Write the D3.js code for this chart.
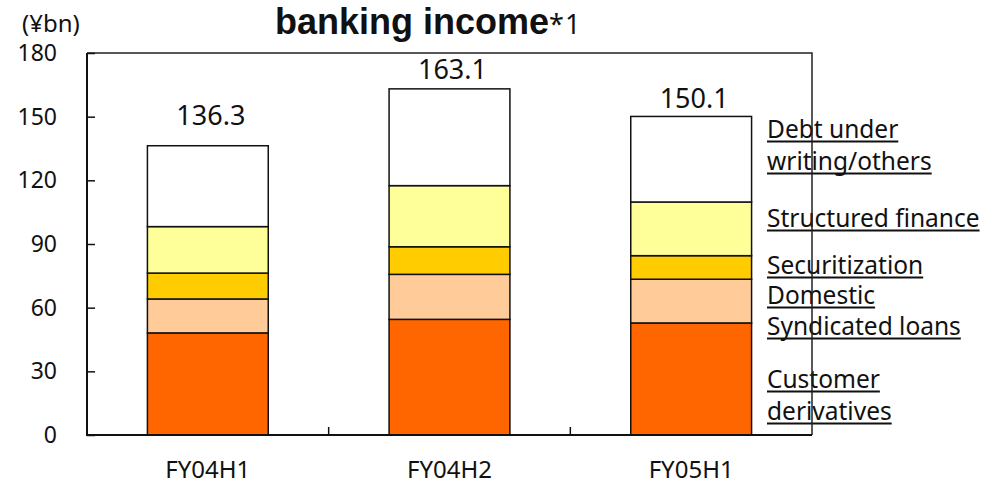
<!DOCTYPE html>
<html>
<head>
<meta charset="utf-8">
<script src="https://cdn.jsdelivr.net/npm/d3@7"></script>
<style>
  html, body { margin: 0; padding: 0; background: #fff; }
  svg { display: block; }
  text { font-family: "Noto Sans", "DejaVu Sans", sans-serif; fill: #111; }
</style>
</head>
<body>
<svg id="chart" width="1003" height="486"></svg>
<script>
// Half-year periods
const categories = ["FY04H1", "FY04H2", "FY05H1"];

// Income by business line (¥bn), bottom to top of each stack
const customerDerivatives = [48.1, 54.5, 52.8];
const domesticSyndicatedLoans = [16.0, 21.2, 20.6];
const securitization = [12.2, 13.0, 11.1];
const structuredFinance = [21.9, 28.8, 25.3];
const debtUnderwritingOthers = [38.1, 45.6, 40.3];

// Totals printed above each bar
const totals = [136.3, 163.1, 150.1];

// Y axis ticks
const yTicks = [0, 30, 60, 90, 120, 150, 180];

const seriesNames = ["Customer derivatives", "Domestic Syndicated loans", "Securitization",
                     "Structured finance", "Debt underwriting/others"];
const seriesValues = [customerDerivatives, domesticSyndicatedLoans, securitization,
                      structuredFinance, debtUnderwritingOthers];

// Legend lines beside the last bar (label text split as drawn)
const legendLines = [
  ["Debt under", "writing/others"],
  ["Structured finance"],
  ["Securitization"],
  ["Domestic", "Syndicated loans"],
  ["Customer", "derivatives"]
];

// ---- layout & style ----
const colors = ["#FF6600", "#FFCC99", "#FFCC00", "#FFFF99", "#FFFFFF"];
const plot = { left: 87, right: 812, top: 53, bottom: 435 };
const labelLift = [21, 10, 8];            // gap between bar top and total label
const legendBaselines = [[138, 170], [227], [274], [304, 335], [388, 420]];

const svg = d3.select("#chart");

const rows = categories.map((c, i) => {
  const r = { category: c };
  seriesNames.forEach((s, k) => r[s] = seriesValues[k][i]);
  return r;
});
const stacked = d3.stack().keys(seriesNames)(rows);

const x = d3.scaleBand().domain(categories)
  .range([plot.left, plot.right]).paddingInner(0.5).paddingOuter(0.25);
const y = d3.scaleLinear().domain([0, 180]).range([plot.bottom, plot.top]);

// Bars
svg.append("g").selectAll("g")
  .data(stacked).join("g")
  .attr("fill", (d, i) => colors[i])
  .selectAll("rect")
  .data(d => d).join("rect")
  .attr("x", d => x(d.data.category))
  .attr("width", x.bandwidth())
  .attr("y", d => y(d[1]))
  .attr("height", d => y(d[0]) - y(d[1]))
  .attr("stroke", "#111")
  .attr("stroke-width", 1.5);

// Totals
svg.append("g").selectAll("text")
  .data(categories).join("text")
  .attr("x", (c) => x(c) + x.bandwidth() / 2 + 3)
  .attr("y", (c, i) => y(totals[i]) - labelLift[i])
  .attr("text-anchor", "middle")
  .attr("font-size", 27)
  .text((c, i) => totals[i].toFixed(1));

// Legend text with underline
const legendG = svg.append("g");
legendLines.forEach((lines, k) => {
  lines.forEach((line, j) => {
    const t = legendG.append("text")
      .attr("x", 767)
      .attr("y", legendBaselines[k][j])
      .attr("font-size", 24.5)
      .text(line);
    const w = t.node().getComputedTextLength();
    legendG.append("line")
      .attr("x1", 767).attr("x2", 767 + w)
      .attr("y1", legendBaselines[k][j] + 3.5).attr("y2", legendBaselines[k][j] + 3.5)
      .attr("stroke", "#111").attr("stroke-width", 2);
  });
});

// Frame: top and right borders
svg.append("path")
  .attr("d", `M${plot.left},${plot.top}H${plot.right}V${plot.bottom}`)
  .attr("fill", "none").attr("stroke", "#222").attr("stroke-width", 1.5);

// Y axis (ticks point inward)
const yAxis = svg.append("g")
  .attr("transform", `translate(${plot.left},0)`)
  .call(d3.axisRight(y).tickValues(yTicks).tickSize(8).tickFormat(""));
yAxis.select(".domain").remove();
yAxis.selectAll(".tick line").attr("stroke", "#111").attr("stroke-width", 1.5);
svg.append("g").selectAll("text")
  .data(yTicks).join("text")
  .attr("x", 57).attr("y", d => y(d))
  .attr("dy", "0.35em")
  .attr("text-anchor", "end")
  .attr("font-size", 23)
  .text(d => d);

// X axis: ticks between categories pointing up
const xBounds = categories.slice(1).map(c => x(c) - x.step() * x.paddingInner() / 2);
svg.append("g").selectAll("line")
  .data(xBounds).join("line")
  .attr("x1", d => d).attr("x2", d => d)
  .attr("y1", plot.bottom).attr("y2", plot.bottom - 8)
  .attr("stroke", "#111").attr("stroke-width", 1.5);
svg.append("g").selectAll("text")
  .data(categories).join("text")
  .attr("x", c => x(c) + x.bandwidth() / 2)
  .attr("y", 478)
  .attr("text-anchor", "middle")
  .attr("font-size", 24)
  .text(c => c);

// Axis lines
svg.append("path")
  .attr("d", `M${plot.left},${plot.top}V${plot.bottom}H${plot.right}`)
  .attr("fill", "none").attr("stroke", "#111").attr("stroke-width", 2);

// Unit and title
svg.append("text").attr("x", 22).attr("y", 32).attr("font-size", 24).text("(¥bn)");
const title = svg.append("text").attr("x", 275).attr("y", 34);
title.append("tspan")
  .attr("font-family", "Liberation Sans, Arial, sans-serif")
  .attr("font-weight", "bold").attr("font-size", 36)
  .text("banking income");
title.append("tspan").attr("font-size", 27).attr("letter-spacing", 1).text("*1");
</script>
</body>
</html>
